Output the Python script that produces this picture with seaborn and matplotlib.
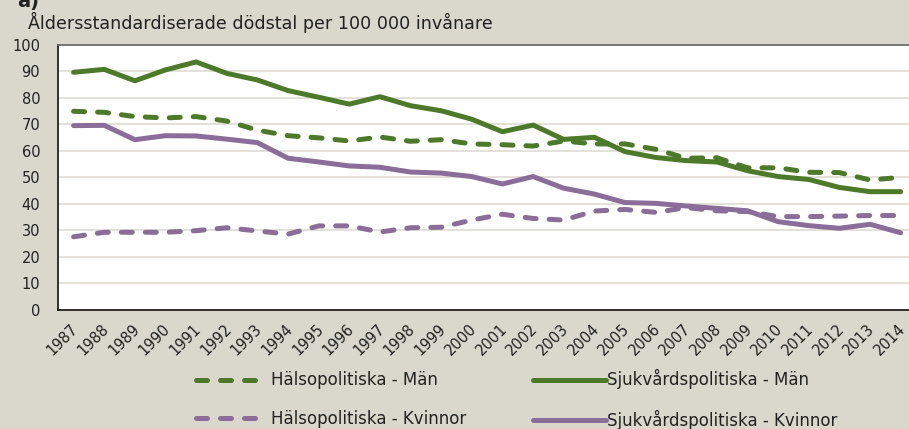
import matplotlib
matplotlib.use("Agg")
import matplotlib.pyplot as plt
import matplotlib.transforms as mtransforms
import seaborn as sns
import pandas as pd
import numpy as np

years = list(range(1987, 2015))
halso_man = [74.9, 74.5, 72.9, 72.4, 72.9, 71.2, 67.8, 65.7, 64.9, 63.7, 65.2, 63.6, 64.2,
             62.6, 62.3, 61.8, 63.7, 62.6, 62.6, 60.6, 57.2, 57.4, 53.6, 53.6, 51.9, 51.8, 49.0, 50.0]
sjuk_man = [89.6, 90.7, 86.4, 90.5, 93.5, 89.2, 86.7, 82.7, 80.2, 77.6, 80.4, 77.0, 75.1,
            71.9, 67.2, 69.7, 64.3, 65.1, 59.7, 57.5, 56.3, 55.8, 52.5, 50.3, 49.2, 46.2, 44.6, 44.6]
halso_kv = [27.6, 29.3, 29.3, 29.3, 29.9, 31.0, 29.8, 28.6, 31.7, 31.7, 29.4, 31.0, 31.2,
            33.9, 36.1, 34.5, 33.9, 37.3, 37.9, 36.8, 38.6, 37.4, 37.1, 35.2, 35.2, 35.4, 35.6, 35.6]
sjuk_kv = [69.5, 69.6, 64.2, 65.7, 65.6, 64.4, 63.1, 57.2, 55.8, 54.3, 53.8, 52.0, 51.6,
           50.3, 47.5, 50.3, 45.9, 43.7, 40.5, 40.2, 39.2, 38.3, 37.4, 33.3, 31.8, 30.8, 32.3, 29.1]

labels = ["Hälsopolitiska - Män", "Hälsopolitiska - Kvinnor",
          "Sjukvårdspolitiska - Män", "Sjukvårdspolitiska - Kvinnor"]
series = [halso_man, halso_kv, sjuk_man, sjuk_kv]

GREEN = "#4D7A2A"
PURPLE = "#8A6D99"
BG = "#DAD8CD"
colors = [GREEN, PURPLE, GREEN, PURPLE]
dashed = [True, True, False, False]

sns.set_style("white")
plt.rcParams["font.family"] = ["DejaVu Sans"]

fig = plt.figure(figsize=(9.09, 4.29), dpi=100, facecolor=BG)
ax = fig.add_axes([58.3 / 909, 1 - 310 / 429, (916 - 58.3) / 909, (310 - 44.7) / 429])
ax.set_facecolor("white")

lw = 3.6
for lab, vals, col, d in zip(labels, series, colors, dashed):
    df = pd.DataFrame({"x": np.arange(len(years)), "y": vals})
    kw = dict(linestyle=(0, (2.2, 2.6))) if d else dict(linestyle="-")
    sns.lineplot(data=df, x="x", y="y", ax=ax, color=col, linewidth=lw,
                 dash_capstyle="round", solid_capstyle="round", solid_joinstyle="round",
                 label=lab, legend=False, **kw)

n = len(years)
ax.set_xlim(-0.5, n - 0.5)
ax.set_ylim(0, 100)
ax.set_yticks(np.arange(0, 101, 10))
ax.yaxis.grid(True, color="#DEDBD2", linewidth=1.2)
ax.set_axisbelow(True)
ax.tick_params(axis="y", length=0, labelsize=10.5, pad=13, labelcolor="#222222")
ax.set_xticks(np.arange(n))
ax.set_xticklabels([str(y) for y in years], rotation=45, ha="right", va="top",
                   rotation_mode="anchor", fontsize=10.5, color="#222222")
ax.tick_params(axis="x", length=0, pad=8)
offset = mtransforms.ScaledTranslation(-3 / 100, 0, fig.dpi_scale_trans)
for t in ax.get_xticklabels():
    t.set_transform(t.get_transform() + offset)
ax.set_xticks(np.arange(-0.5, n, 1.0), minor=True)
ax.tick_params(axis="x", which="minor", direction="in", length=5, color="#222222", width=1)
ax.set_xlabel("")
ax.set_ylabel("")
for s in ["left", "bottom"]:
    ax.spines[s].set_color("#111111")
    ax.spines[s].set_linewidth(1.2)
ax.spines["top"].set_color("#666666")
ax.spines["top"].set_linewidth(1.2)
ax.spines["right"].set_visible(False)

fig.text(28 / 909, 1 - 22 / 429, "Åldersstandardiserade dödstal per 100 000 invånare",
         fontsize=12.6, va="center", ha="left", color="#222222")
fig.text(17 / 909, 1 - 2 / 429, "a)", fontsize=14, fontweight="bold", va="center", ha="left",
         color="#222222")

h = ax.get_lines()
fig.legend(h[0:2], labels[0:2], loc="center left",
           bbox_to_anchor=(181 / 909, 1 - 399.5 / 429), frameon=False,
           fontsize=12, handlelength=3.8, handletextpad=0.7, labelspacing=1.22,
           labelcolor="#222222")
fig.legend(h[2:4], labels[2:4], loc="center left",
           bbox_to_anchor=(518 / 909, 1 - 399.5 / 429), frameon=False,
           fontsize=12, handlelength=4.4, handletextpad=0.05, labelspacing=1.22,
           labelcolor="#222222")

fig.savefig("out.png", dpi=100, facecolor=BG)
